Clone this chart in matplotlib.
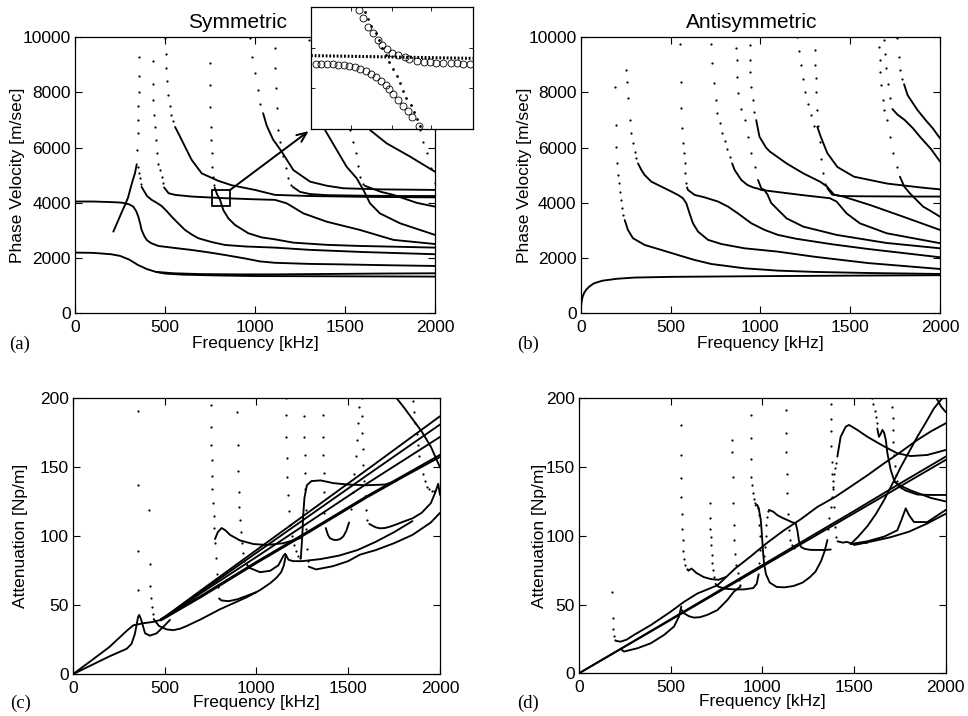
import matplotlib
matplotlib.use('Agg')
import matplotlib.pyplot as plt
from matplotlib.patches import Rectangle

plt.rcParams['font.family'] = ['Liberation Sans', 'DejaVu Sans']

# ---------------- tick labels / text ----------------
freq_ticks = [0, 500, 1000, 1500, 2000]
vel_ticks = [0, 2000, 4000, 6000, 8000, 10000]
att_ticks = [0, 50, 100, 150, 200]

# ---------------- (a) Symmetric: phase velocity ----------------
S1_f = [0, 100, 200, 250, 300, 350, 400, 450, 500, 600, 800, 1000, 1500, 2000]
S1_v = [2200, 2190, 2140, 2080, 1950, 1750, 1600, 1500, 1440, 1400, 1370, 1350, 1340, 1330]
S1b_f = [450, 550, 700, 900, 1100, 1300, 1500, 1700, 2000]
S1b_v = [1500, 1450, 1420, 1410, 1410, 1420, 1430, 1440, 1450]
S2_f = [0, 100, 200, 259, 300, 324, 340, 352, 362, 370, 385, 398, 420, 463, 550, 648, 750, 833, 950, 1028, 1111, 1300, 1500, 1750, 2000]
S2_v = [4050, 4050, 4030, 4010, 3950, 3865, 3700, 3500, 3250, 3020, 2800, 2660, 2550, 2440, 2370, 2295, 2200, 2113, 1980, 1880, 1830, 1790, 1770, 1740, 1715]
S3_dot_f = [352, 356, 360, 366]
S3_dot_v = [5310, 5100, 4900, 4700]
S3_f = [370, 380, 400, 426, 455, 481, 510, 537, 575, 611, 650, 685, 760, 833, 950, 1111, 1300, 1600, 2000]
S3_v = [4580, 4470, 4250, 4110, 4000, 3890, 3700, 3500, 3250, 3020, 2850, 2720, 2580, 2476, 2420, 2380, 2300, 2220, 2140]
Sarc_f = [213, 241, 262, 278, 295, 306, 320, 333, 343]
Sarc_v = [2960, 3380, 3700, 3925, 4200, 4470, 4800, 5070, 5400]
Sarc_dot_f = [346, 348, 350, 352, 354, 356, 357]
Sarc_dot_v = [5900, 6520, 7000, 7500, 8000, 8600, 9300]
Spl_dot_f = [431, 433, 436, 440, 444, 449, 454, 463, 472, 482, 490]
Spl_dot_v = [9140, 8300, 7730, 7200, 6760, 6280, 5800, 5400, 5190, 4950, 4710]
Spl_f = [495, 520, 556, 648, 833, 1000, 1111, 1176, 1213, 1269, 1398, 1583, 1769, 2000]
Spl_v = [4560, 4350, 4290, 4230, 4170, 4130, 4110, 3985, 3840, 3620, 3320, 3020, 2660, 2510]
S750_dot_f = [750, 751, 752, 754, 756, 759, 763, 768, 773]
S750_dot_v = [9060, 8270, 7490, 6760, 6280, 5800, 5310, 4950, 4650]
S750_f = [776, 790, 806, 824, 852, 889, 963, 1037, 1111, 1213, 1400, 1583, 1800, 2000]
S750_v = [4550, 4300, 4110, 3740, 3440, 3200, 2900, 2750, 2680, 2560, 2480, 2440, 2410, 2380]
S500_dot_f = [500, 503, 507, 512, 518, 525, 533, 543]
S500_dot_v = [9960, 9400, 8900, 8400, 7900, 7500, 7200, 6950]
S500_f = [556, 580, 611, 648, 704, 796, 870, 1000, 1111, 1300, 1600, 2000]
S500_v = [6750, 6450, 6040, 5560, 5070, 4800, 4640, 4470, 4290, 4250, 4220, 4200]
Sa_dot_f = [972, 985, 1000, 1015, 1030]
Sa_dot_v = [9960, 9300, 8700, 8100, 7600]
Sa_f = [1045, 1065, 1100, 1148, 1213, 1306, 1400, 1491, 1700, 2000]
Sa_v = [7250, 6800, 6300, 5860, 5190, 4770, 4620, 4530, 4490, 4470]
Sb_dot_f = [1111, 1113, 1116, 1120, 1125, 1139, 1155, 1170, 1185, 1200]
Sb_dot_v = [9600, 8880, 8150, 7430, 6640, 6200, 5700, 5250, 4900, 4650]
Sb_f = [1210, 1250, 1306, 1400, 1600, 1800, 2000]
Sb_v = [4580, 4400, 4320, 4280, 4260, 4250, 4250]
Sc_dot_f = [1300, 1320, 1345, 1370]
Sc_dot_v = [9900, 8900, 7900, 7100]
Sc_f = [1389, 1454, 1509, 1565, 1602, 1639, 1694, 1806, 2000]
Sc_v = [6640, 5920, 5310, 4890, 4470, 3985, 3620, 3260, 2840]
Sd_dot_f = [1528, 1545, 1560, 1572, 1583, 1600]
Sd_dot_v = [6640, 6200, 5800, 5350, 4950, 4700]
Sd_f = [1610, 1700, 1769, 1900, 2000]
Sd_v = [4620, 4400, 4290, 4000, 3865]
Se_f = [1560, 1639, 1731, 1861, 2000]
Se_v = [7400, 6640, 6160, 5680, 5130]
Sf_dot_f = [1900, 1917, 1935, 1954, 1975, 2000]
Sf_dot_v = [7300, 6640, 6200, 5800, 5250, 4710]

# inset (zoom of the small box) -- exact (circles) and computed (dots)
box_f = [759, 861]
box_v = [3888, 4467]
In_up_f = [789, 792, 795, 798, 801, 804, 807, 810, 814, 818, 821, 826, 830, 834, 838, 842, 847, 851, 855, 859]
In_up_v = [4451, 4412, 4372, 4341, 4309, 4286, 4266, 4250, 4239, 4228, 4218, 4212, 4207, 4204, 4203, 4201, 4200, 4200, 4198, 4198]
In_lo_f = [762, 765, 769, 773, 776, 780, 783, 787, 790, 794, 797, 800, 803, 806, 808, 811, 814, 817, 820, 823, 827]
In_lo_v = [4196, 4196, 4195, 4195, 4193, 4190, 4187, 4181, 4173, 4162, 4149, 4133, 4116, 4097, 4077, 4053, 4028, 4000, 3973, 3946, 3904]
In_flat_f = [759, 861]
In_flat_v = [4236, 4223]
In_dot_f = [793, 795, 797, 800, 802, 804, 806, 808, 811, 813, 815, 817, 819, 822, 824, 826, 828]
In_dot_v = [4443, 4409, 4376, 4341, 4308, 4273, 4240, 4206, 4173, 4138, 4105, 4071, 4038, 4003, 3970, 3935, 3902]

# ---------------- (b) Antisymmetric: phase velocity ----------------
B1_f = [0, 2, 5, 10, 18, 30, 50, 74, 120, 200, 300, 500, 800, 1100, 1500, 2000]
B1_v = [0, 250, 420, 580, 725, 850, 980, 1087, 1180, 1250, 1295, 1320, 1335, 1350, 1365, 1380]
B2_dot_f = [191, 195, 198, 204, 208, 211, 217, 222, 230, 237]
B2_dot_v = [8190, 6820, 6010, 5430, 5010, 4710, 4410, 4110, 3800, 3560]
B2_f = [245, 263, 291, 356, 449, 541, 634, 727, 912, 1098, 1300, 1600, 2000]
B2_v = [3380, 3020, 2720, 2476, 2295, 2113, 1932, 1787, 1630, 1546, 1500, 1460, 1425]
B3_dot_f = [250, 255, 262, 272, 282, 291, 300, 310]
B3_dot_v = [8810, 8390, 7800, 7000, 6520, 6160, 5860, 5620]
B3_f = [319, 338, 356, 393, 449, 505, 541, 569, 588, 606, 625, 653, 709, 783, 912, 1098, 1300, 1600, 2000]
B3_v = [5430, 5190, 5010, 4770, 4590, 4410, 4290, 4170, 3985, 3620, 3260, 2960, 2660, 2510, 2355, 2234, 2050, 1820, 1606]
B4_dot_f = [553, 557, 560, 566, 571, 575, 578, 582, 588]
B4_dot_v = [9760, 8390, 7430, 6700, 6180, 5800, 5430, 5070, 4710]
B4_f = [592, 597, 634, 690, 764, 820, 875, 950, 1024, 1098, 1200, 1400, 1600, 1800, 2000]
B4_v = [4560, 4470, 4290, 4200, 4050, 3865, 3620, 3260, 3020, 2840, 2700, 2500, 2330, 2180, 2030]
B5_dot_f = [725, 733, 742, 752, 761, 774, 787, 801, 815, 829]
B5_dot_v = [9740, 9060, 8330, 7730, 7250, 6900, 6550, 6250, 5950, 5680]
B5_f = [843, 857, 894, 928, 960, 985, 1005, 1053, 1150, 1250, 1387, 1424, 1450, 1480, 1554, 1703, 2000]
B5_v = [5430, 5190, 4830, 4650, 4560, 4520, 4470, 4430, 4350, 4270, 4170, 4050, 3850, 3620, 3260, 2900, 2540]
B6_dot_f = [866, 868, 871, 875, 890, 912, 930, 950, 968]
B6_dot_v = [9600, 9180, 8575, 7970, 7400, 7000, 6400, 5800, 5300]
B6_f = [987, 1005, 1022, 1040, 1060, 1098, 1146, 1239, 1425, 1700, 2000]
B6_v = [4830, 4530, 4470, 4300, 4000, 3750, 3440, 3140, 2840, 2550, 2355]
B7_dot_f = [940, 942, 945, 950, 957, 965]
B7_dot_v = [9720, 9180, 8760, 8210, 7730, 7300]
B7_f = [977, 995, 1032, 1053, 1146, 1239, 1332, 1370, 1387, 1410, 1461, 1610, 1795, 2000]
B7_v = [7000, 6400, 6000, 5860, 5430, 5070, 4770, 4600, 4470, 4300, 4230, 3925, 3500, 3020]
B8_dot_f = [1206, 1215, 1225, 1235, 1250, 1265, 1280, 1300]
B8_dot_v = [10000, 9500, 9000, 8500, 8000, 7600, 7200, 6800]
B8_f = [1317, 1336, 1373, 1429, 1521, 1706, 1891, 2000]
B8_v = [6760, 6400, 5800, 5300, 4950, 4700, 4560, 4490]
B9_dot_f = [1304, 1306, 1309, 1312, 1316, 1322, 1330, 1340, 1350, 1362]
B9_dot_v = [9540, 9000, 8510, 8030, 7370, 6800, 6200, 5600, 5100, 4700]
B9_f = [1373, 1400, 1450, 1550, 1700, 1850, 2000]
B9_v = [4530, 4300, 4250, 4240, 4235, 4230, 4230]
B10_dot_f = [1660, 1664, 1668, 1673, 1680, 1688, 1703, 1720, 1740, 1760]
B10_dot_v = [9660, 9180, 8760, 8270, 7730, 7370, 7000, 6400, 5800, 5300]
B10_f = [1777, 1800, 1832, 1870, 1906, 1950, 2000]
B10_v = [4950, 4600, 4350, 4100, 3865, 3700, 3500]
B11_dot_f = [1690, 1695, 1700, 1710, 1720]
B11_dot_v = [9900, 9400, 8900, 8300, 7800]
B11_f = [1735, 1763, 1804, 1850, 1888, 1950, 2000]
B11_v = [7400, 7200, 7000, 6700, 6400, 5950, 5500]
B12_dot_f = [1763, 1770, 1780, 1790]
B12_dot_v = [9960, 9300, 8800, 8500]
B12_f = [1800, 1820, 1874, 1920, 1960, 2000]
B12_v = [8300, 7900, 7370, 7000, 6700, 6340]

# ---------------- (c) Symmetric: attenuation ----------------
C0u_f = [0, 100, 200, 294, 330, 385, 439, 480]
C0u_a = [0, 9.8, 19.8, 31.5, 35.5, 37, 38, 39.5]
C0l_f = [0, 100, 200, 294, 320, 338, 348, 356, 362, 372, 394, 421, 457, 494, 530]
C0l_a = [0, 6.5, 13, 18.5, 22, 29, 36, 41.5, 43, 40, 29.7, 28, 29.7, 34.5, 39.4]
C1_dot_f = [353, 354, 355, 356]
C1_dot_a = [191, 137, 89, 61]
C2_dot_f = [416, 419, 423, 427, 431, 436]
C2_dot_a = [119, 80, 64, 55, 49, 44]
C2_f = [441, 470, 512, 548, 584, 621, 660, 700, 750, 800, 875, 950, 1020, 1075, 1110, 1135, 1150, 1161]
C2_a = [40, 35, 32.5, 32, 33, 35, 37.5, 40, 43.5, 47, 51.5, 56, 61, 66, 70, 74, 79, 86.5]
CL_f = [1161, 1175, 1200, 1250, 1350, 1450, 1550, 1650, 1750, 1850]
CL_a = [86.5, 83, 82, 82, 83.5, 86, 90, 96, 103, 111]
C3_dot_f = [751, 752, 754, 756, 758, 761, 764, 768, 772, 777, 782, 787, 792]
C3_dot_a = [195, 179, 166, 155, 144, 134, 124, 115, 106, 95, 84, 73, 63]
C3b_f = [797, 810, 850, 900, 950, 1000]
C3b_a = [55, 53.5, 53, 54.5, 57, 59.5]
C3_f = [775, 790, 811, 830, 857, 911, 984, 1056, 1147, 1238]
C3_a = [98, 103, 106, 104.5, 101, 97, 94.4, 93.7, 95, 98.6]
C4_dot_f = [896, 898, 900, 903, 906, 910, 915, 920, 927, 935]
C4_dot_a = [190, 166, 147, 132, 121, 112, 103, 95, 88, 82]
C4_f = [945, 965, 1020, 1075, 1120, 1148, 1157]
C4_a = [80, 77, 74, 75, 79, 86, 87.4]
C5_dot_f = [1161, 1162, 1164, 1166, 1169, 1173, 1178, 1185, 1195, 1205, 1215, 1225, 1235]
C5_dot_a = [200, 188, 172, 157, 143, 130, 118, 108, 100, 94, 89, 86, 84]
C5_f = [1242, 1250, 1255, 1262, 1275, 1300, 1350, 1420, 1500, 1600, 1700, 1760]
C5_a = [84, 100, 115, 128, 137, 140, 140.5, 138.5, 137.5, 137, 137.5, 140]
C6_dot_f = [1260, 1261, 1263, 1265, 1267, 1270, 1273, 1276, 1280]
C6_dot_a = [187, 172, 159, 146, 134, 119, 105, 91, 82]
C6_f = [1285, 1325, 1416, 1500, 1564, 1650, 1750, 1850, 1950, 2000]
C6_a = [78, 76, 78.3, 82, 86.7, 90, 95, 101, 110, 117]
C7_dot1_f = [1361, 1362, 1364, 1366, 1368, 1371]
C7_dot1_a = [188, 172, 159, 146, 132, 117]
C7_f = [1378, 1390, 1401, 1420, 1437, 1456, 1474, 1490, 1505]
C7_a = [106, 101, 98.6, 97.5, 97.3, 98, 100, 104, 110]
C7_dot2_f = [1515, 1525, 1533, 1540, 1546, 1552, 1557]
C7_dot2_a = [120, 132, 145, 158, 170, 182, 194]
C8_dot_f = [1573, 1575, 1577, 1580, 1583, 1587, 1592, 1598, 1605]
C8_dot_a = [200, 187, 175, 163, 152, 140, 129, 119, 112]
C8_f = [1615, 1628, 1650, 1673, 1700, 1728, 1760, 1800, 1850, 1900, 1950, 1975, 1990, 2000]
C8_a = [109, 108, 106.5, 105.8, 106, 107, 108.5, 110.6, 113, 117, 124, 132, 138, 130]
C9_f = [1764, 1800, 1850, 1900, 1950, 2000]
C9_a = [200, 194, 185, 176, 165, 150]
C10_dot_f = [1855, 1860, 1866, 1873, 1880, 1888, 1897, 1907, 1918, 1930, 1942, 1955, 1968]
C10_dot_a = [198, 190, 182, 174, 166, 158, 151, 145, 140, 136, 134, 133, 133]
Cu1_f = [480, 700, 1000, 1300, 1600, 1800, 2000]
Cu1_a = [39.5, 61, 90, 119, 148, 167.5, 187]
Cu2_f = [480, 700, 1000, 1300, 1600, 1800, 2000]
Cu2_a = [39.5, 60, 88, 116, 144, 162.5, 181]
Cu3_f = [480, 700, 1000, 1300, 1600, 1800, 2000]
Cu3_a = [39.5, 59, 85, 111.5, 138, 155, 172]
Cu4_f = [480, 700, 1000, 1300, 1600, 1800, 2000]
Cu4_a = [40, 57, 81.5, 105, 129, 144, 159]
Cu5_f = [480, 700, 1000, 1300, 1600, 1800, 2000]
Cu5_a = [39, 56, 80.5, 104, 128, 143, 157.5]

# ---------------- (d) Antisymmetric: attenuation ----------------
Do1_f = [0, 250, 500, 750, 1000, 1250, 1500, 1750, 2000]
Do1_a = [0, 19.6, 39.3, 59, 78.7, 98.4, 118, 138, 157.6]
Do2_f = [0, 250, 500, 750, 1000, 1250, 1500, 1750, 2000]
Do2_a = [0, 19.4, 38.8, 58.2, 77.6, 97, 116.4, 135.8, 155.2]
Dup_dot_f = [182, 185, 188, 192, 197]
Dup_dot_a = [59, 40, 32, 27, 24.5]
Dup_f = [205, 227, 260, 300, 391, 500, 573, 645, 755, 850, 936, 1027, 1118, 1209, 1300, 1400, 1482, 1573, 1664, 1755, 1845, 1920, 2000]
Dup_a = [23.5, 23, 24.5, 27.9, 35, 44.8, 52, 58, 64, 76, 85, 95, 104, 112, 121, 128.5, 135.8, 144, 152.7, 161, 169.7, 176, 181.8]
Dlow_f = [227, 245, 318, 391, 464, 518, 545, 558]
Dlow_a = [17.8, 15.8, 18.2, 21.8, 27.9, 34, 41.2, 48.5]
D555_dot_f = [555, 556, 557, 558, 560, 562, 565, 569, 574, 580, 588, 596]
D555_dot_a = [180.6, 159, 142, 128.5, 116, 105, 97, 89, 83, 79, 76, 75]
D555_f = [600, 614, 640, 680, 720, 760, 800]
D555_a = [75, 76.2, 73, 70, 68.5, 68, 70]
D555b_f = [560, 573, 600, 627, 660, 700, 755, 809, 845, 880]
D555b_a = [46, 43.6, 41.5, 40.5, 40.8, 42.5, 46, 53.3, 59.4, 63]
D715_dot_f = [715, 716, 717, 719, 721, 724, 728, 733, 739]
D715_dot_a = [123.6, 112.7, 105, 99.4, 93.3, 86, 80, 75, 70]
D715_f = [745, 760, 800, 850, 900, 950, 969, 980]
D715_a = [65, 63, 61.5, 61, 61, 62, 65, 72]
D715_up_dot_f = [984, 987, 986, 983, 980, 976]
D715_up_dot_a = [80, 90, 100, 108, 115, 120]
D836_dot_f = [836, 837, 838, 840, 843, 847, 852, 858, 865, 872, 880]
D836_dot_a = [170, 161, 143, 123.6, 108, 97, 87, 78.8, 72.7, 67.9, 64]
D936_dot_f = [936, 937, 938, 940, 943, 947, 952, 958]
D936_dot_a = [187.9, 171, 156, 143, 137, 131, 127, 124]
D936_f = [963, 972, 980, 991, 996, 1000, 1004, 1009, 1020, 1040, 1078, 1120, 1170, 1220, 1260, 1290, 1320, 1340, 1355]
D936_a = [122, 122.5, 120, 112, 104, 96, 88, 80, 72, 66, 62.8, 62.5, 63.5, 66, 70, 74, 81.5, 89, 97]
D1036_dot_f = [1009, 1014, 1018, 1022, 1027, 1032]
D1036_dot_a = [85, 92, 100, 108, 114, 118]
D1036_f = [1036, 1060, 1082, 1110, 1136, 1160, 1182, 1191, 1200, 1210, 1230, 1260, 1300, 1340, 1373]
D1036_a = [118.8, 117.5, 115, 113, 111.5, 110, 109, 104, 96, 92, 90.5, 89.8, 89.7, 89.7, 90]
D1127_dot_f = [1127, 1128, 1130, 1132, 1135, 1139, 1145, 1152, 1160, 1170]
D1127_dot_a = [191.5, 174.5, 161, 145, 131, 116, 104, 97, 93, 91]
D1373u_dot_f = [1360, 1366, 1372, 1378, 1383, 1388, 1393, 1398, 1404]
D1373u_dot_a = [105, 113, 121, 128, 134, 140, 145, 149, 153]
D1373u_f = [1409, 1427, 1455, 1473, 1518, 1573, 1664, 1736, 1809, 1900, 2000]
D1373u_a = [157.6, 172, 179.4, 180.6, 177, 172, 165, 160, 158, 158.8, 162.4]
D1373d_dot_f = [1373, 1374, 1375, 1377, 1379, 1382, 1385, 1389, 1394, 1400]
D1373d_dot_a = [196, 185, 176, 165, 154, 145, 135.8, 121, 106.7, 99.4]
D1373d_f = [1410, 1440, 1460, 1496, 1530, 1573]
D1373d_a = [96, 95, 95.6, 94, 94.5, 95]
Dlr1_f = [1482, 1573, 1664, 1736, 1760, 1782, 1800, 1827, 1900, 2000]
Dlr1_a = [94, 96, 99.4, 104, 112, 120, 115, 110, 110, 118.8]
Dlr2_f = [1500, 1600, 1700, 1800, 1900, 2000]
Dlr2_a = [93.3, 96, 99, 103, 109, 116]
Dx1_f = [1482, 1520, 1573, 1620, 1664, 1710, 1755, 1800, 1845, 1890, 1936, 1975, 2000]
Dx1_a = [94, 99, 107, 116, 126, 138, 150, 161, 172, 182, 192.7, 199, 203]
Dx2_f = [1920, 1950, 1975, 2000]
Dx2_a = [210, 200, 194, 190]
D1600_dot_f = [1600, 1605, 1612, 1618, 1623]
D1600_dot_a = [200, 196, 191, 186.7, 182]
D1600_f = [1627, 1636, 1645, 1655, 1664, 1673, 1682, 1700, 1718, 1745, 1780, 1845, 1920, 2000]
D1600_a = [178, 172, 174, 177, 175, 170, 160, 148, 140.6, 135.8, 133, 130, 129.7, 129.7]
D1709_dot_f = [1709, 1710, 1712, 1715, 1718, 1722, 1727, 1733]
D1709_dot_a = [194, 186, 177, 168, 159, 151, 144, 140]
D125_f = [1718, 1760, 1809, 1860, 1920, 2000]
D125_a = [139.4, 136, 133, 130.5, 127.5, 125]

# ---------------- drawing ----------------
LW = 1.35
MS = 1.6


def draw(ax, solids, dots):
    for f, v in solids:
        ax.plot(f, v, color='k', lw=LW, solid_joinstyle='round', solid_capstyle='round')
    for f, v in dots:
        ax.plot(f, v, ls='none', marker='o', ms=MS, mfc='k', mec='k', mew=0)


def style(ax, ylim, yticks, ylabel, ylab_x, xlab_y):
    ax.set_xlim(0, 2000)
    ax.set_ylim(*ylim)
    ax.set_xticks(freq_ticks)
    ax.set_yticks(yticks)
    ax.tick_params(direction='in', top=True, right=True, length=5, width=0.8,
                   labelsize=12.5, pad=3, colors='k')
    ax.tick_params(axis='x', pad=5)
    for s in ax.spines.values():
        s.set_linewidth(0.9)
    ax.set_xlabel('Frequency [kHz]', fontsize=12.5)
    ax.set_ylabel(ylabel, fontsize=12.5)
    ax.yaxis.set_label_coords(ylab_x, 0.5)
    ax.xaxis.set_label_coords(0.5, xlab_y)


fig = plt.figure(figsize=(9.68, 7.16), dpi=100)
W, H = 968.0, 716.0


def axes_px(l, t, r, b):
    return fig.add_axes([l / W, 1 - b / H, (r - l) / W, (b - t) / H])


ax_a = axes_px(75, 37.3, 435, 313.3)
ax_b = axes_px(580.7, 37.3, 940, 313.3)
ax_c = axes_px(72.7, 398.3, 440, 674.3)
ax_d = axes_px(579, 398.3, 945.7, 673.3)

draw(ax_a,
     [(S1_f, S1_v), (S1b_f, S1b_v), (S2_f, S2_v), (S3_f, S3_v), (Sarc_f, Sarc_v),
      (Spl_f, Spl_v), (S750_f, S750_v), (S500_f, S500_v), (Sa_f, Sa_v), (Sb_f, Sb_v),
      (Sc_f, Sc_v), (Sd_f, Sd_v), (Se_f, Se_v)],
     [(S3_dot_f, S3_dot_v), (Sarc_dot_f, Sarc_dot_v), (Spl_dot_f, Spl_dot_v),
      (S750_dot_f, S750_dot_v), (S500_dot_f, S500_dot_v), (Sa_dot_f, Sa_dot_v),
      (Sb_dot_f, Sb_dot_v), (Sc_dot_f, Sc_dot_v), (Sd_dot_f, Sd_dot_v), (Sf_dot_f, Sf_dot_v)])
style(ax_a, (0, 10000), vel_ticks, 'Phase Velocity [m/sec]', -0.139, -0.082)
ax_a.add_patch(Rectangle((box_f[0], box_v[0]), box_f[1] - box_f[0], box_v[1] - box_v[0],
                         fill=False, ec='k', lw=1.3, zorder=5))
ax_a.annotate('', xy=(1298, 6600), xytext=(box_f[1], box_v[1]),
              arrowprops=dict(arrowstyle='->,head_length=0.7,head_width=0.3', lw=1.4,
                              color='k', shrinkA=0, shrinkB=0), annotation_clip=False)

draw(ax_b,
     [(B1_f, B1_v), (B2_f, B2_v), (B3_f, B3_v), (B4_f, B4_v), (B5_f, B5_v), (B6_f, B6_v),
      (B7_f, B7_v), (B8_f, B8_v), (B9_f, B9_v), (B10_f, B10_v), (B11_f, B11_v), (B12_f, B12_v)],
     [(B2_dot_f, B2_dot_v), (B3_dot_f, B3_dot_v), (B4_dot_f, B4_dot_v), (B5_dot_f, B5_dot_v),
      (B6_dot_f, B6_dot_v), (B7_dot_f, B7_dot_v), (B8_dot_f, B8_dot_v), (B9_dot_f, B9_dot_v),
      (B10_dot_f, B10_dot_v), (B11_dot_f, B11_dot_v), (B12_dot_f, B12_dot_v)])
style(ax_b, (0, 10000), vel_ticks, 'Phase Velocity [m/sec]', -0.135, -0.082)

draw(ax_c,
     [(C0u_f, C0u_a), (C0l_f, C0l_a), (C2_f, C2_a), (CL_f, CL_a), (C3_f, C3_a), (C3b_f, C3b_a),
      (C4_f, C4_a), (C5_f, C5_a), (C6_f, C6_a), (C7_f, C7_a), (C8_f, C8_a), (C9_f, C9_a),
      (Cu1_f, Cu1_a), (Cu2_f, Cu2_a), (Cu3_f, Cu3_a), (Cu4_f, Cu4_a), (Cu5_f, Cu5_a)],
     [(C1_dot_f, C1_dot_a), (C2_dot_f, C2_dot_a), (C3_dot_f, C3_dot_a), (C4_dot_f, C4_dot_a),
      (C5_dot_f, C5_dot_a), (C6_dot_f, C6_dot_a), (C7_dot1_f, C7_dot1_a), (C7_dot2_f, C7_dot2_a),
      (C8_dot_f, C8_dot_a), (C10_dot_f, C10_dot_a)])
style(ax_c, (0, 200), att_ticks, 'Attenuation [Np/m]', -0.121, -0.075)

draw(ax_d,
     [(Do1_f, Do1_a), (Do2_f, Do2_a), (Dup_f, Dup_a), (Dlow_f, Dlow_a), (D555_f, D555_a),
      (D555b_f, D555b_a), (D715_f, D715_a), (D936_f, D936_a), (D1036_f, D1036_a),
      (D1373u_f, D1373u_a), (D1373d_f, D1373d_a), (Dlr1_f, Dlr1_a), (Dlr2_f, Dlr2_a),
      (Dx1_f, Dx1_a), (Dx2_f, Dx2_a), (D1600_f, D1600_a), (D125_f, D125_a)],
     [(Dup_dot_f, Dup_dot_a), (D555_dot_f, D555_dot_a), (D715_dot_f, D715_dot_a),
      (D715_up_dot_f, D715_up_dot_a),
      (D836_dot_f, D836_dot_a), (D936_dot_f, D936_dot_a), (D1036_dot_f, D1036_dot_a),
      (D1127_dot_f, D1127_dot_a), (D1373u_dot_f, D1373u_dot_a), (D1373d_dot_f, D1373d_dot_a),
      (D1600_dot_f, D1600_dot_a), (D1709_dot_f, D1709_dot_a)])
style(ax_d, (0, 200), att_ticks, 'Attenuation [Np/m]', -0.086, -0.075)

# inset
ax_in = axes_px(311, 6.7, 472.7, 129.3)
ax_in.set_facecolor('white')
ax_in.plot(In_flat_f, In_flat_v, color='k', lw=2.2, ls=(0, (0.6, 0.6)))
ax_in.plot(In_dot_f, In_dot_v, ls='none', marker='o', ms=2.0, mfc='k', mec='k', mew=0)
ax_in.plot(In_up_f, In_up_v, ls='none', marker='o', ms=5.0, mfc='none', mec='k', mew=0.6)
ax_in.plot(In_lo_f, In_lo_v, ls='none', marker='o', ms=5.0, mfc='none', mec='k', mew=0.6)
ax_in.set_xlim(box_f)
ax_in.set_ylim(box_v)
ax_in.set_xticks([784, 810, 835])
ax_in.set_yticks([4082, 4270])
ax_in.tick_params(direction='in', top=True, right=True, length=3, width=0.6,
                  labelbottom=False, labelleft=False)
for s in ax_in.spines.values():
    s.set_linewidth(0.9)

# titles and panel labels
fig.text(237 / W, 1 - 23 / H, 'Symmetric', ha='center', va='center', fontsize=15)
fig.text(751.5 / W, 1 - 23 / H, 'Antisymmetric', ha='center', va='center', fontsize=15)
serif = ['Liberation Serif', 'DejaVu Serif']
fig.text(9 / W, 1 - 344 / H, '(a)', ha='left', va='center', fontsize=13.5, family=serif)
fig.text(517 / W, 1 - 344 / H, '(b)', ha='left', va='center', fontsize=13.5, family=serif)
fig.text(10 / W, 1 - 703 / H, '(c)', ha='left', va='center', fontsize=13.5, family=serif)
fig.text(517 / W, 1 - 703 / H, '(d)', ha='left', va='center', fontsize=13.5, family=serif)

fig.savefig('out.png', dpi=100)
